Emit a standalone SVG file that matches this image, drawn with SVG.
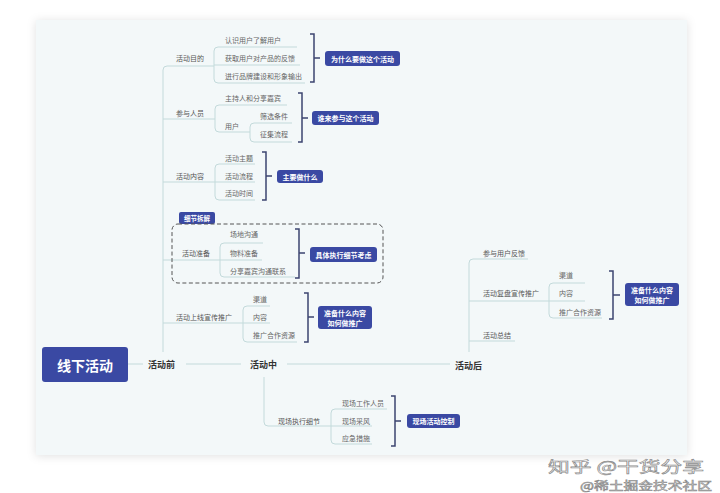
<svg xmlns="http://www.w3.org/2000/svg" width="720" height="493" viewBox="0 0 720 493">
<defs>
<filter id="sh" x="-10%" y="-10%" width="120%" height="120%"><feDropShadow dx="0" dy="1" stdDeviation="5" flood-color="#000" flood-opacity="0.12"/></filter>
<style>
text{font-family:"Noto Sans CJK SC","Noto Sans",sans-serif;dominant-baseline:central}
.t1{font-size:9px;fill:#333;font-weight:bold}
.t2{font-size:7px;fill:#555}
.t3{font-size:7px;fill:#666}
.lab{font-size:7px;fill:#fff;font-weight:bold;text-anchor:middle}
.box{fill:#3a49a3}
.ln{fill:none;stroke:#c3dadb;stroke-width:1}
.br{fill:none;stroke:#3d4470;stroke-width:1.5}
.wm{fill:#fff;stroke:#8a8a8a;stroke-width:0.6;dominant-baseline:alphabetic}
</style>
</defs>
<rect width="720" height="493" fill="#ffffff"/>
<rect x="36" y="20" width="651" height="435" fill="#f3f8f9" filter="url(#sh)"/>

<g id="connectors">
<path class="ln" d="M128,364 H143 M186,364 H241 M287,364 H450"/>
<path class="ln" d="M163,352 V70 Q163,66 167,66 H214"/>
<path class="ln" d="M297,47 H218 Q214,47 214,51 V79 Q214,83 218,83 H305 M214,65 H300"/>
<path class="ln" d="M163,119 H215 M287,105 H219 Q215,105 215,109 V128 Q215,132 219,132 H250 M292,123 H254 Q250,123 250,127 V138 Q250,142 254,142 H292"/>
<path class="ln" d="M163,182 H215 M255,164 H219 Q215,164 215,168 V196 Q215,200 219,200 H255 M215,182 H255"/>
<path class="ln" d="M163,260 H220 M263,243 H224 Q220,243 220,247 V273 Q220,277 224,277 H295 M220,260 H262"/>
<path class="ln" d="M163,323 H243 M270,306 H247 Q243,306 243,310 V338 Q243,342 247,342 H297 M243,323 H270"/>
<path class="ln" d="M264,377 V422 Q264,426 268,426 H331 M387,409 H335 Q331,409 331,413 V440 Q331,444 335,444 H372 M331,426 H372"/>
<path class="ln" d="M469,352 V263 Q469,259 473,259 H528 M469,301 H549 M469,341 H515 M585,283 H553 Q549,283 549,287 V314 Q549,318 553,318 H602 M549,301 H585"/>
<path class="br" d="M310,34 H314 V82 H310 M314,58 H320"/>
<path class="br" d="M298,93 H302 V142 H298 M302,118 H308"/>
<path class="br" d="M262,152 H266 V200 H262 M266,176 H272"/>
<path class="br" d="M295,229 H299 V278 H295 M299,253 H305"/>
<path class="br" d="M304,293 H308 V342 H304 M308,317 H314"/>
<path class="br" d="M391,396 H395 V446 H391 M395,421 H401"/>
<path class="br" d="M609,271 H613 V319 H609 M613,295 H620"/>
</g>

<g id="root">
<rect x="42" y="347" width="86" height="35" rx="3" fill="#3a49a3"/>
<text x="85" y="364.5" style="font-size:14px;fill:#fff;font-weight:bold;text-anchor:middle">线下活动</text>
</g>

<g id="before"><text class="t1" x="148" y="364">活动前</text></g>
<g id="during"><text class="t1" x="250" y="364">活动中</text></g>
<g id="after"><text class="t1" x="455" y="365">活动后</text></g>

<g id="purpose">
<text class="t2" x="176" y="58">活动目的</text>
<text class="t3" x="225" y="40">认识用户了解用户</text>
<text class="t3" x="225" y="58">获取用户对产品的反馈</text>
<text class="t3" x="225" y="76">进行品牌建设和形象输出</text>
<rect class="box" x="325" y="51" width="75" height="15" rx="3"/>
<text class="lab" x="362.5" y="58.5">为什么要做这个活动</text>
</g>

<g id="people">
<text class="t2" x="176" y="113">参与人员</text>
<text class="t3" x="225" y="98">主持人和分享嘉宾</text>
<text class="t3" x="225" y="126">用户</text>
<text class="t3" x="260" y="116">筛选条件</text>
<text class="t3" x="260" y="134">征集流程</text>
<rect class="box" x="312" y="111" width="67" height="14" rx="3"/>
<text class="lab" x="345.5" y="118">谁来参与这个活动</text>
</g>

<g id="content">
<text class="t2" x="176" y="176">活动内容</text>
<text class="t3" x="225" y="158">活动主题</text>
<text class="t3" x="225" y="176">活动流程</text>
<text class="t3" x="225" y="193">活动时间</text>
<rect class="box" x="277" y="170" width="46" height="13" rx="3"/>
<text class="lab" x="300" y="176.5">主要做什么</text>
</g>

<g id="prepare">
<rect class="box" x="179" y="212" width="36" height="12" rx="2"/>
<text class="lab" x="197" y="218" style="font-size:6.5px">细节拆解</text>
<rect x="172" y="224" width="211" height="59" rx="6" fill="none" stroke="#555" stroke-width="1" stroke-dasharray="4,2.5"/>
<text class="t2" x="182" y="253">活动准备</text>
<text class="t3" x="230" y="234">场地沟通</text>
<text class="t3" x="230" y="253">物料准备</text>
<text class="t3" x="230" y="271">分享嘉宾沟通联系</text>
<rect class="box" x="310" y="247" width="67" height="15" rx="3"/>
<text class="lab" x="343.5" y="254.5">具体执行细节考虑</text>
</g>

<g id="promo">
<text class="t2" x="176" y="317">活动上线宣传推广</text>
<text class="t3" x="253" y="299">渠道</text>
<text class="t3" x="253" y="317">内容</text>
<text class="t3" x="253" y="335">推广合作资源</text>
<rect class="box" x="318" y="306" width="54" height="23" rx="3"/>
<text class="lab" x="345" y="312.5">准备什么内容</text>
<text class="lab" x="345" y="322.5">如何做推广</text>
</g>

<g id="onsite">
<text class="t2" x="278" y="421">现场执行细节</text>
<text class="t3" x="342" y="403">现场工作人员</text>
<text class="t3" x="342" y="421">现场采风</text>
<text class="t3" x="342" y="438">应急措施</text>
<rect class="box" x="407" y="414" width="53" height="14" rx="3"/>
<text class="lab" x="433.5" y="421">现场活动控制</text>
</g>

<g id="feedback"><text class="t2" x="483" y="253">参与用户反馈</text></g>
<g id="review">
<text class="t2" x="483" y="293">活动复盘宣传推广</text>
<text class="t3" x="559" y="275">渠道</text>
<text class="t3" x="559" y="293">内容</text>
<text class="t3" x="559" y="312">推广合作资源</text>
<rect class="box" x="625" y="283" width="54" height="23" rx="3"/>
<text class="lab" x="652" y="289.5">准备什么内容</text>
<text class="lab" x="652" y="299.5">如何做推广</text>
</g>
<g id="summary"><text class="t2" x="483" y="335">活动总结</text></g>

<g id="watermark">
<text class="wm" x="548" y="471.5" style="font-size:15px" textLength="156" lengthAdjust="spacingAndGlyphs">知乎 @干货分享</text>
<text class="wm" x="580" y="489.5" style="font-size:11.5px" textLength="132" lengthAdjust="spacingAndGlyphs">@稀土掘金技术社区</text>
</g>
</svg>
